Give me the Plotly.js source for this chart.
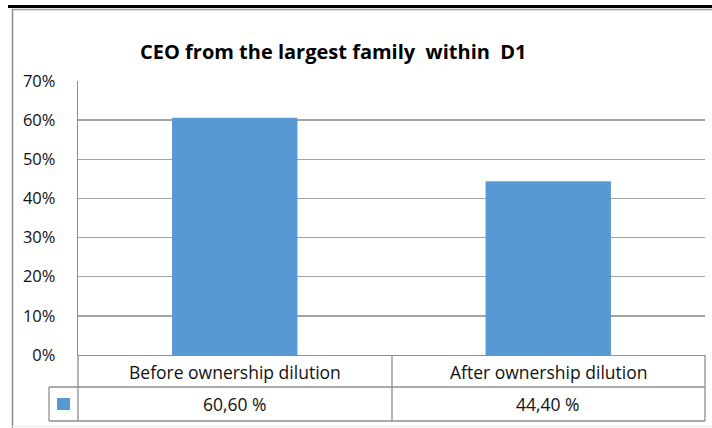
<!DOCTYPE html>
<html>
<head>
<meta charset="utf-8">
<script src="https://cdn.plot.ly/plotly-3.0.1.min.js"></script>
<style>
  html, body { margin: 0; padding: 0; background: #fff; }
  #plot { width: 712px; height: 428px; }
</style>
</head>
<body>
<div id="plot"></div>
<script>
"use strict";

// ── Data ──
const chartTitle = "CEO from the largest family  within  D1";
const categories = ["Before ownership dilution", "After ownership dilution"];
const values = [60.6, 44.4];          // percent
const yTicks = [0, 10, 20, 30, 40, 50, 60, 70];

// ── Pixel frame (Excel-style chart with a data table under the plot) ──
const W = 712, H = 428;
const M = { l: 78, r: 7, t: 81, b: 73 };
const PW = W - M.l - M.r, PH = H - M.t - M.b;
const px = x => (x - M.l) / PW;             // page px -> paper x
const py = y => (H - M.b - y) / PH;         // page px -> paper y

const FONT = "'Open Sans', 'Noto Sans', sans-serif";
const BAR = "#5899d5";
const GRID = "#a3a3a3";
const RULE = "#8e8e8e";

function hline(x0, x1, y, color, width) {
    return { type: "line", xref: "paper", yref: "paper",
             x0: px(x0), x1: px(x1), y0: py(y), y1: py(y),
             line: { color: color, width: width } };
}
function vline(x, y0, y1, color, width) {
    return { type: "line", xref: "paper", yref: "paper",
             x0: px(x), x1: px(x), y0: py(y0), y1: py(y1),
             line: { color: color, width: width } };
}

const fmt = v => v.toFixed(2).replace(".", ",") + " %";

const traces = [{
    type: "bar",
    x: categories, y: values,
    marker: { color: BAR, line: { width: 0 } },
    hoverinfo: "skip", showlegend: false,
}];

// Data table rows under the axis
const tableRowLabel = 372, tableRowValue = 404;
const annotations = [];
categories.forEach((c, i) => {
    annotations.push({
        xref: "x", yref: "paper", x: c, y: py(tableRowLabel),
        text: c, showarrow: false, xanchor: "center", yanchor: "middle",
        font: { family: FONT, size: 17.5, color: "#111" },
    });
    annotations.push({
        xref: "x", yref: "paper", x: c, y: py(tableRowValue),
        text: fmt(values[i]), showarrow: false, xanchor: "center", yanchor: "middle",
        font: { family: FONT, size: 17.5, color: "#111" },
    });
});
annotations.push({
    xref: "paper", yref: "paper", x: px(333.5), y: py(51),
    text: "<b>" + chartTitle + "</b>", showarrow: false,
    xanchor: "center", yanchor: "middle",
    font: { family: FONT, size: 20, color: "#000" },
});

const shapes = [
    // outer frame
    hline(8, 712, 6.5, "#000", 3),
    hline(12, 712, 9.5, "#9a9a9a", 1.5),
    vline(12.5, 9, 428, "#8a8a8a", 1.5),
    hline(12, 712, 426.5, "#ececec", 1),
    // data table
    hline(49, 705, 387, RULE, 1.3),
    hline(49, 705, 421, RULE, 1.3),
    vline(49, 387, 421, RULE, 1.3),
    vline(78, 355, 421, RULE, 1.3),
    vline(392, 355, 421, RULE, 1.3),
    vline(705, 355, 421, RULE, 1.3),
    // legend key
    { type: "rect", xref: "paper", yref: "paper",
      x0: px(57), x1: px(70), y0: py(410), y1: py(398),
      fillcolor: BAR, line: { width: 0 } },
];

const layout = {
    width: W, height: H,
    margin: M,
    paper_bgcolor: "#fff", plot_bgcolor: "#fff",
    bargap: 0.6,
    showlegend: false,
    xaxis: {
        type: "category",
        showticklabels: false, ticks: "",
        showgrid: false, zeroline: false,
        showline: true, linecolor: RULE, linewidth: 1.3,
        fixedrange: true,
    },
    yaxis: {
        range: [0, 70],
        tickvals: yTicks, ticktext: yTicks.map(t => t + "%"),
        ticks: "", ticklabelstandoff: 18,
        tickfont: { family: FONT, size: 16.5, color: "#111" },
        showgrid: true, gridcolor: GRID, gridwidth: 1.5,
        zeroline: false,
        showline: true, linecolor: RULE, linewidth: 1.3,
        fixedrange: true,
    },
    shapes: shapes,
    annotations: annotations,
};

Plotly.newPlot("plot", traces, layout, { displayModeBar: false, staticPlot: true });
</script>
</body>
</html>
